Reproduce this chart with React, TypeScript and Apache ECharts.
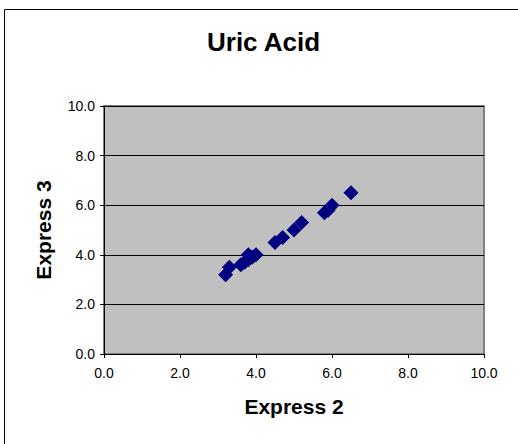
import React, { useEffect, useRef } from "react";
import * as echarts from "echarts";

const titleText = "Uric Acid";
const xName = "Express 2";
const yName = "Express 3";
const express2 = [3.2, 3.3, 3.6, 3.7, 3.8, 3.8, 3.9, 4.0, 4.5, 4.7, 5.0, 5.2, 5.8, 5.9, 6.0, 6.5];
const express3 = [3.2, 3.5, 3.6, 3.7, 3.8, 4.0, 3.9, 4.0, 4.5, 4.7, 5.0, 5.3, 5.7, 5.8, 6.0, 6.5];

const FONT = 'Arial, "Liberation Sans", sans-serif';

export default function App() {
  const ref = useRef<HTMLDivElement>(null);
  useEffect(() => {
    if (!ref.current) return;
    const chart = echarts.init(ref.current, undefined, { renderer: "svg" });
    const points = express2.map((x, i) => [x, express3[i]]);
    chart.setOption({
      animation: false,
      backgroundColor: "#ffffff",
      title: {
        text: titleText,
        left: 202,
        top: 24,
        textStyle: { fontFamily: FONT, fontSize: 26, fontWeight: "bold", color: "#000" },
      },
      graphic: [
        {
          type: "rect",
          shape: { x: 4.5, y: 9.5, width: 700, height: 700 },
          style: { fill: "none", stroke: "#000", lineWidth: 1 },
          silent: true,
        },
      ],
      grid: {
        left: 104,
        right: 34,
        top: 106,
        bottom: 90,
        show: true,
        backgroundColor: "#C0C0C0",
        borderColor: "#808080",
        borderWidth: 2,
      },
      xAxis: {
        type: "value",
        min: 0,
        max: 10,
        interval: 2,
        name: xName,
        nameLocation: "middle",
        nameGap: 42,
        nameTextStyle: { fontFamily: FONT, fontSize: 21, fontWeight: "bold", color: "#000" },
        axisLine: { show: true, onZero: false, lineStyle: { color: "#000", width: 1 } },
        axisTick: { show: true, inside: false, length: 4, lineStyle: { color: "#000" } },
        axisLabel: {
          margin: 12,
          fontFamily: FONT,
          fontSize: 14,
          color: "#000",
          formatter: (v: number) => v.toFixed(1),
        },
        splitLine: { show: false },
      },
      yAxis: {
        type: "value",
        min: 0,
        max: 10,
        interval: 2,
        name: yName,
        nameLocation: "middle",
        nameGap: 50,
        nameTextStyle: { fontFamily: FONT, fontSize: 21, fontWeight: "bold", color: "#000" },
        axisLine: { show: true, onZero: false, lineStyle: { color: "#000", width: 1 } },
        axisTick: { show: true, inside: false, length: 4, lineStyle: { color: "#000" } },
        axisLabel: {
          margin: 9,
          fontFamily: FONT,
          fontSize: 14,
          color: "#000",
          formatter: (v: number) => v.toFixed(1),
        },
        splitLine: { show: true, lineStyle: { color: "#000", width: 1 } },
      },
      series: [
        {
          type: "scatter",
          data: points,
          symbol: "diamond",
          symbolSize: 15,
          itemStyle: { color: "#000080", opacity: 1 },
        },
      ],
    });
    return () => chart.dispose();
  }, []);
  return (
    <div
      ref={ref}
      style={{ position: "fixed", left: 0, top: 0, width: 518, height: 444 }}
    />
  );
}
